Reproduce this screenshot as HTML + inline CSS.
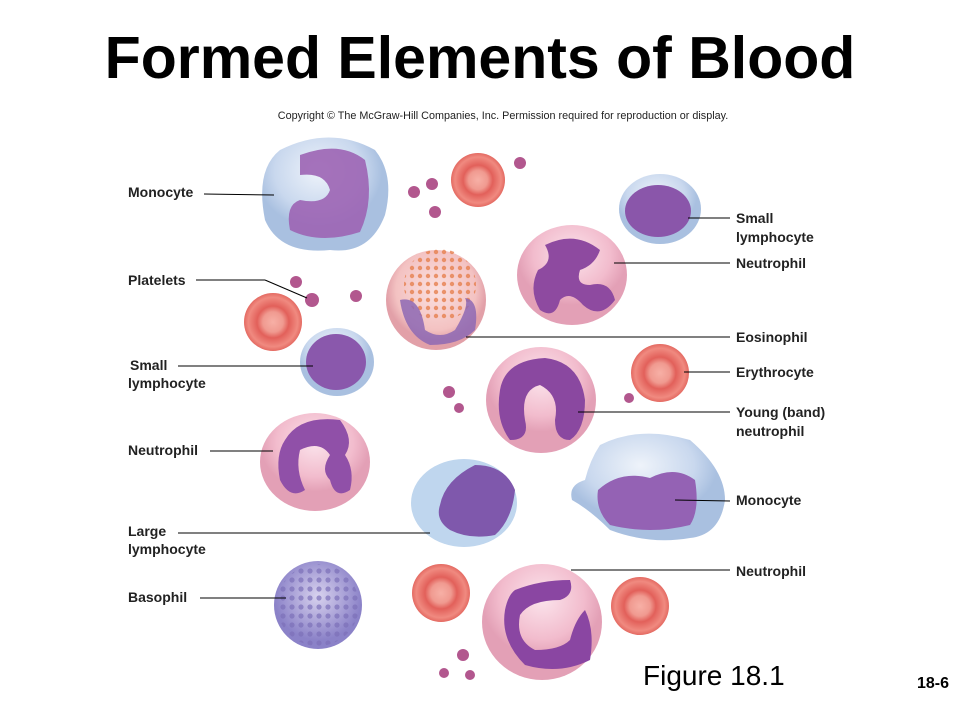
<!DOCTYPE html>
<html><head><meta charset="utf-8"><style>
body{margin:0;background:#fff;}
svg{display:block}
text{font-family:"Liberation Sans",Arial,sans-serif}
.l{font-size:14px;font-weight:bold;fill:#222}
</style></head><body>
<svg width="960" height="720" viewBox="0 0 960 720" xmlns="http://www.w3.org/2000/svg">
<defs>
<radialGradient id="rbc"><stop offset="0" stop-color="#f7b0a6"/><stop offset="0.35" stop-color="#f09a90"/><stop offset="0.55" stop-color="#e2605a"/><stop offset="0.85" stop-color="#f08a80"/><stop offset="1" stop-color="#e46a62"/></radialGradient>
<radialGradient id="blue" cx="0.45" cy="0.3"><stop offset="0" stop-color="#eef3fa"/><stop offset="0.7" stop-color="#c9d8ee"/><stop offset="1" stop-color="#a9c0e0"/></radialGradient>
<radialGradient id="pink" cx="0.5" cy="0.3"><stop offset="0" stop-color="#fbe4ec"/><stop offset="0.7" stop-color="#f2bccd"/><stop offset="1" stop-color="#e3a0b6"/></radialGradient>
<radialGradient id="eos" cx="0.5" cy="0.4"><stop offset="0" stop-color="#fbe0df"/><stop offset="0.8" stop-color="#f3c2c2"/><stop offset="1" stop-color="#e2a0a8"/></radialGradient>
<radialGradient id="baso" cx="0.5" cy="0.4"><stop offset="0" stop-color="#d8d2ee"/><stop offset="1" stop-color="#8b82c8"/></radialGradient>
<pattern id="dots" width="9" height="9" patternUnits="userSpaceOnUse"><circle cx="4" cy="4" r="2.6" fill="#7c70b8"/></pattern>
<pattern id="edots" width="8" height="8" patternUnits="userSpaceOnUse"><circle cx="4" cy="4" r="2.2" fill="#e6804e"/></pattern>
</defs>
<text x="480" y="78" text-anchor="middle" font-size="59" font-weight="bold" fill="#000">Formed Elements of Blood</text>
<text x="503" y="119" text-anchor="middle" font-size="10.8" fill="#222">Copyright © The McGraw-Hill Companies, Inc. Permission required for reproduction or display.</text>

<g fill="url(#rbc)">
<circle cx="478" cy="180" r="27"/><circle cx="273" cy="322" r="29"/><circle cx="660" cy="373" r="29"/><circle cx="441" cy="593" r="29"/><circle cx="640" cy="606" r="29"/>
</g>
<g fill="#b2578e">
<circle cx="414" cy="192" r="6"/><circle cx="432" cy="184" r="6"/><circle cx="435" cy="212" r="6"/><circle cx="520" cy="163" r="6"/>
<circle cx="296" cy="282" r="6"/><circle cx="312" cy="300" r="7"/><circle cx="356" cy="296" r="6"/>
<circle cx="449" cy="392" r="6"/><circle cx="459" cy="408" r="5"/><circle cx="629" cy="398" r="5"/>
<circle cx="463" cy="655" r="6"/><circle cx="444" cy="673" r="5"/><circle cx="470" cy="675" r="5"/>
</g>
<path d="M280 150 Q330 125 375 150 Q395 175 385 215 Q370 255 330 250 Q280 255 265 220 Q255 170 280 150Z" fill="url(#blue)"/>
<path d="M300 155 Q340 140 365 160 Q375 200 360 232 Q320 245 290 230 Q285 205 300 200 Q325 205 330 190 Q325 172 300 175Z" fill="#9c64b4" opacity="0.9"/>
<ellipse cx="660" cy="209" rx="41" ry="35" fill="url(#blue)"/>
<ellipse cx="658" cy="211" rx="33" ry="26" fill="#8a56aa"/>
<ellipse cx="572" cy="275" rx="55" ry="50" fill="url(#pink)"/>
<path d="M545 245 Q575 230 600 250 Q595 265 580 270 Q575 285 590 285 Q610 280 615 300 Q600 320 583 305 Q570 290 560 300 Q555 320 540 310 Q528 290 538 270 Q555 262 545 245Z" fill="#8e4aa0"/>
<circle cx="436" cy="300" r="50" fill="url(#eos)"/>
<circle cx="440" cy="285" r="36" fill="url(#edots)" opacity="0.8"/>
<path d="M400 300 Q420 295 425 330 Q440 340 455 330 Q470 305 465 298 Q480 300 475 330 Q460 345 430 345 Q405 335 400 300Z" fill="#8d68b4" opacity="0.85"/>
<ellipse cx="337" cy="362" rx="37" ry="34" fill="url(#blue)"/>
<ellipse cx="336" cy="362" rx="30" ry="28" fill="#8a58ac"/>
<ellipse cx="541" cy="400" rx="55" ry="53" fill="url(#pink)"/>
<path d="M500 390 Q505 360 545 358 Q580 362 585 400 Q585 430 570 440 Q555 440 555 420 Q560 395 540 385 Q520 390 525 420 Q530 440 510 440 Q495 420 500 390Z" fill="#8a48a0"/>
<ellipse cx="315" cy="462" rx="55" ry="49" fill="url(#pink)"/>
<path d="M285 440 Q300 415 340 420 Q355 440 345 455 Q355 470 350 490 Q335 500 330 480 Q320 470 330 455 Q320 440 300 450 Q295 470 305 490 Q290 500 280 480 Q275 455 285 440Z" fill="#9050a8"/>
<path d="M600 445 Q640 425 690 440 Q725 470 725 500 Q720 535 690 538 Q650 545 610 530 Q590 510 572 500 Q568 485 585 480 Q590 460 600 445Z" fill="url(#blue)"/>
<path d="M598 490 Q620 470 650 478 Q675 465 695 480 Q700 510 690 525 Q650 535 610 525 Q595 510 598 490Z" fill="#9462b4"/>
<ellipse cx="464" cy="503" rx="53" ry="44" fill="#bfd6ee"/>
<path d="M440 505 Q445 480 475 465 Q505 465 515 490 Q512 520 495 535 Q470 540 450 530 Q435 520 440 505Z" fill="#7f58ac"/>
<circle cx="318" cy="605" r="44" fill="url(#baso)"/>
<circle cx="318" cy="605" r="41" fill="url(#dots)" opacity="0.7"/>
<ellipse cx="542" cy="622" rx="60" ry="58" fill="url(#pink)"/>
<path d="M515 590 Q540 580 570 580 Q575 595 560 600 Q530 600 520 615 Q515 640 535 650 Q560 650 570 640 Q575 620 585 610 Q595 630 590 660 Q560 675 525 665 Q500 640 505 610 Q508 595 515 590Z" fill="#8a46a2"/>

<g stroke="#000" stroke-width="1" fill="none">
<line x1="204" y1="194" x2="274" y2="195"/>
<line x1="196" y1="280" x2="265" y2="280"/><line x1="265" y1="280" x2="307" y2="298"/>
<line x1="178" y1="366" x2="313" y2="366"/>
<line x1="210" y1="451" x2="273" y2="451"/>
<line x1="178" y1="533" x2="430" y2="533"/>
<line x1="200" y1="598" x2="286" y2="598"/>
<line x1="688" y1="218" x2="730" y2="218"/>
<line x1="614" y1="263" x2="730" y2="263"/>
<line x1="466" y1="337" x2="730" y2="337"/>
<line x1="684" y1="372" x2="730" y2="372"/>
<line x1="578" y1="412" x2="730" y2="412"/>
<line x1="675" y1="500" x2="730" y2="501"/>
<line x1="571" y1="570" x2="730" y2="570"/>
</g>
<g class="l">
<text x="128" y="197">Monocyte</text>
<text x="130" y="370">Small</text><text x="128" y="388">lymphocyte</text>
<text x="128" y="285">Platelets</text>
<text x="128" y="455">Neutrophil</text>
<text x="128" y="536">Large</text><text x="128" y="554">lymphocyte</text>
<text x="128" y="602">Basophil</text>
<text x="736" y="223">Small</text><text x="736" y="242">lymphocyte</text>
<text x="736" y="268">Neutrophil</text>
<text x="736" y="342">Eosinophil</text>
<text x="736" y="377">Erythrocyte</text>
<text x="736" y="417">Young (band)</text><text x="736" y="436">neutrophil</text>
<text x="736" y="505">Monocyte</text>
<text x="736" y="576">Neutrophil</text>
</g>
<text x="643" y="685" font-size="28" fill="#000">Figure 18.1</text>
<text x="949" y="688" text-anchor="end" font-size="16" font-weight="bold" fill="#000">18-6</text>
</svg>
</body></html>
